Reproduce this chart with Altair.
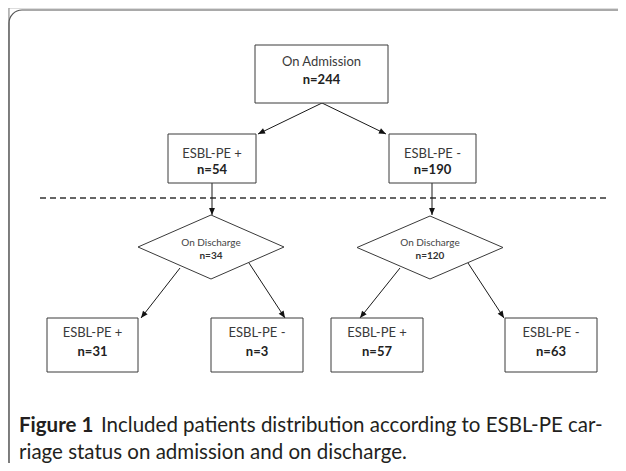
import math
import altair as alt
import pandas as pd

# ---------------- content ----------------
box_labels = ["On Admission", "ESBL-PE +", "ESBL-PE  -", "ESBL-PE +", "ESBL-PE -", "ESBL-PE +", "ESBL-PE -"]
box_counts = [244, 54, 190, 31, 3, 57, 63]
diamond_labels = ["On Discharge", "On Discharge"]
diamond_counts = [34, 120]
caption_bold = "Figure 1"
caption_rest = "Included patients distribution according to ESBL-PE car-"
caption_line2 = "riage status on admission and on discharge."

# ---------------- layout (page pixels) ----------------
box_x1 = [255, 168, 389, 47, 211, 331, 505]
box_x2 = [388, 256, 476, 138, 303, 423, 597]
box_y1 = [45, 134, 134, 318, 318, 318, 318]
box_y2 = [103, 183, 183, 372, 372, 372, 372]
box_label_y = [62, 154, 154, 333, 333, 333, 333]
box_count_y = [80, 170, 170, 352, 352, 352, 352]

dia_cx = [211, 430]
dia_top = [215, 216]
dia_bottom = [279, 279]
dia_half = [73, 73]
dia_label_y = [243, 243]
dia_count_y = [256, 256]

arrow_x1 = [322, 322, 212, 432, 180, 249, 400, 468]
arrow_y1 = [103, 103, 183, 183, 268, 263, 268, 263]
arrow_x2 = [258, 386, 212, 432, 141, 285, 360, 504]
arrow_y2 = [134, 134, 215, 215, 318, 318, 318, 318]

dash_x = [40, 606]
dash_y = 198

cap_x = 19
cap_rest_x = 101
cap_y1 = 426
cap_y2 = 453

# ---------------- chart setup ----------------
W, H = 610, 455
OX, OY = 8, 8
XS = alt.Scale(domain=[OX, OX + W], nice=False, zero=False)
YS = alt.Scale(domain=[OY, OY + H], nice=False, zero=False, reverse=True)


def X(f, **kw):
    return alt.X(f, type="quantitative", scale=XS, axis=None, **kw)


def Y(f, **kw):
    return alt.Y(f, type="quantitative", scale=YS, axis=None, **kw)


boxes = pd.DataFrame(dict(x1=box_x1, x2=box_x2, y1=box_y1, y2=box_y2,
                          label=box_labels, count=["n=%d" % c for c in box_counts],
                          ly=box_label_y, cy=box_count_y,
                          cx=[(a + b) / 2 for a, b in zip(box_x1, box_x2)]))

# rounded figure frame: only its top and left sides fall inside the page
frame_top = pd.DataFrame(dict(x1=[9], x2=[900], y1=[10], y2=[700]))
frame_left = pd.DataFrame(dict(x1=[9], x2=[900], y1=[-300], y2=[467]))
frame_a = alt.Chart(frame_top).mark_rect(
    fill=None, stroke="#555555", strokeWidth=1.2, cornerRadius=13
).encode(x=X("x1"), x2="x2", y=Y("y1"), y2="y2")
frame_b = alt.Chart(frame_left).mark_rect(
    fill=None, stroke="#9a9a9a", strokeWidth=1.2, cornerRadius=6
).encode(x=X("x1"), x2="x2", y=Y("y1"), y2="y2")

box_layer = alt.Chart(boxes).mark_rect(
    fill="white", stroke="#3a3a3a", strokeWidth=1
).encode(x=X("x1"), x2="x2", y=Y("y1"), y2="y2")

box_label = alt.Chart(boxes).mark_text(
    font="Lato", fontSize=13, color="#3a3a3a", baseline="middle"
).encode(x=X("cx"), y=Y("ly"), text="label:N")

box_count = alt.Chart(boxes).mark_text(
    font="Lato", fontSize=13, fontWeight="bold", color="#222222", baseline="middle"
).encode(x=X("cx"), y=Y("cy"), text="count:N")

# diamonds as closed paths
rows = []
for i in range(len(dia_cx)):
    cy = (dia_top[i] + dia_bottom[i]) / 2
    pts = [(dia_cx[i], dia_top[i]), (dia_cx[i] + dia_half[i], cy),
           (dia_cx[i], dia_bottom[i]), (dia_cx[i] - dia_half[i], cy),
           (dia_cx[i], dia_top[i])]
    for k, (px, py) in enumerate(pts):
        rows.append(dict(d=i, o=k, x=px, y=py))
dia_df = pd.DataFrame(rows)
dia_layer = alt.Chart(dia_df).mark_line(
    stroke="#3a3a3a", strokeWidth=1
).encode(x=X("x"), y=Y("y"), detail="d:N", order="o:Q")

dia_txt = pd.DataFrame(dict(x=dia_cx, label=diamond_labels,
                            count=["n=%d" % c for c in diamond_counts],
                            ly=dia_label_y, cy=dia_count_y))
dia_label = alt.Chart(dia_txt).mark_text(
    font="Lato", fontSize=10, color="#444444", baseline="middle"
).encode(x=X("x"), y=Y("ly"), text="label:N")
dia_count = alt.Chart(dia_txt).mark_text(
    font="Lato", fontSize=10, fontWeight="bold", color="#333333", baseline="middle"
).encode(x=X("x"), y=Y("cy"), text="count:N")

# arrows
ang = []
for a, b, c, d in zip(arrow_x1, arrow_y1, arrow_x2, arrow_y2):
    ang.append(math.degrees(math.atan2(c - a, -(d - b))) % 360)
arr = pd.DataFrame(dict(x1=arrow_x1, y1=arrow_y1, x2=arrow_x2, y2=arrow_y2, ang=ang))
arrow_lines = alt.Chart(arr).mark_rule(color="#1a1a1a", strokeWidth=1).encode(
    x=X("x1"), y=Y("y1"), x2="x2", y2="y2")
arrow_heads = alt.Chart(arr).mark_point(
    shape="M0,0L-0.42,1L0.42,1Z", filled=True, color="#111111", opacity=1, size=196
).encode(x=X("x2"), y=Y("y2"), angle=alt.Angle("ang:Q", scale=None))

dash_df = pd.DataFrame(dict(x1=[dash_x[0]], x2=[dash_x[1]], y=[dash_y]))
dash_layer = alt.Chart(dash_df).mark_rule(
    color="#333333", strokeWidth=1.4, strokeDash=[6, 4]
).encode(x=X("x1"), x2="x2", y=Y("y"))

# caption
cap1b = pd.DataFrame(dict(x=[cap_x], y=[cap_y1], t=[caption_bold]))
cap1r = pd.DataFrame(dict(x=[cap_rest_x], y=[cap_y1], t=[caption_rest]))
cap2 = pd.DataFrame(dict(x=[cap_x], y=[cap_y2], t=[caption_line2]))
cap_style = dict(font="Lato", fontSize=20.5, align="left", baseline="middle", color="#231f20")
cap_b = alt.Chart(cap1b).mark_text(fontWeight="bold", **cap_style).encode(
    x=X("x"), y=Y("y"), text="t:N")
cap_r = alt.Chart(cap1r).mark_text(**cap_style).encode(x=X("x"), y=Y("y"), text="t:N")
cap_2 = alt.Chart(cap2).mark_text(**cap_style).encode(x=X("x"), y=Y("y"), text="t:N")

chart = alt.layer(
    frame_b, frame_a, dash_layer, arrow_lines, arrow_heads, box_layer, dia_layer,
    box_label, box_count, dia_label, dia_count, cap_b, cap_r, cap_2
).properties(
    width=W, height=H, autosize=alt.AutoSizeParams(type="none"), padding=0
).configure_view(stroke=None).configure(background="white")

chart.save("out.html", embed_options={"renderer": "svg", "actions": False})
